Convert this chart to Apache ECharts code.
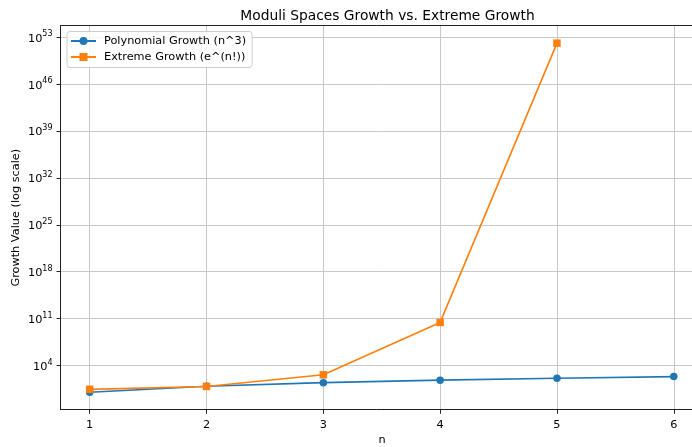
<!DOCTYPE html>
<html>
<head>
<meta charset="utf-8">
<script src="https://cdn.jsdelivr.net/npm/echarts@6/dist/echarts.min.js"></script>
<style>
html,body{margin:0;padding:0;background:#fff;overflow:hidden;}
#chart{width:692px;height:447px;}
</style>
</head>
<body>
<div id="chart"></div>
<script>
// ---- data ----
const titleText = 'Moduli Spaces Growth vs. Extreme Growth';
const xName = 'n';
const yName = 'Growth Value (log scale)';
const seriesNames = ['Polynomial Growth (n^3)', 'Extreme Growth (e^(n!))'];
const polyN = [1, 2, 3, 4, 5, 6];
const polyValues = [1, 8, 27, 64, 125, 216];
const extremeN = [1, 2, 3, 4, 5];
const extremeValues = [2.718, 7.389, 403.4, 2.649e10, 1.304e52];
const xTicks = [1, 2, 3, 4, 5, 6];
const yTickExponents = [4, 11, 18, 25, 32, 39, 46, 53];

const FONT = 'DejaVu Sans';
const FS = 11.3;
const toLog = (ns, vs) => ns.map((n, i) => [n, Math.log10(vs[i])]);

const chart = echarts.init(document.getElementById('chart'), null, {renderer: 'canvas'});
chart.setOption({
  animation: false,
  backgroundColor: '#ffffff',
  textStyle: {fontFamily: FONT},
  title: {
    text: titleText,
    left: 382.5, top: 4, textAlign: 'center',
    textStyle: {fontFamily: FONT, fontSize: 13.8, fontWeight: 'normal', color: '#000'}
  },
  grid: {
    left: 60.5, top: 25.7, right: 0, height: 384,
    show: false, containLabel: false
  },
  graphic: [
    {type: 'text', x: 16.5, y: 217.7, rotation: Math.PI / 2,
     style: {text: yName, fontFamily: FONT, fontSize: FS, fill: '#000', align: 'center', verticalAlign: 'middle'}},
    {type: 'text', x: 382, y: 440,
     style: {text: xName, fontFamily: FONT, fontSize: FS, fill: '#000', align: 'center', verticalAlign: 'middle'}}
  ],
  legend: {
    orient: 'vertical',
    left: 67, top: 31.5,
    padding: [4, 6, 5, 3],
    itemGap: 5,
    itemWidth: 25, itemHeight: 10,
    backgroundColor: 'rgba(255,255,255,0.85)',
    borderColor: '#cccccc', borderWidth: 1, borderRadius: 3,
    textStyle: {fontFamily: FONT, fontSize: FS, color: '#000', padding: [0, 0, 0, 3]},
    data: seriesNames
  },
  xAxis: [{
    type: 'value',
    min: 0.75, max: 6.156,
    axisLine: {show: true, onZero: false, lineStyle: {color: '#222', width: 1}},
    axisTick: {show: true, length: 4, inside: false, customValues: xTicks, lineStyle: {color: '#222'}},
    axisLabel: {customValues: xTicks, margin: 10, fontFamily: FONT, fontSize: FS, color: '#000'},
    splitLine: {show: true, lineStyle: {color: '#c8c8c8', width: 1}}
  }, {
    type: 'value', position: 'top',
    min: 0.75, max: 6.156,
    axisLine: {show: true, onZero: false, lineStyle: {color: '#222', width: 1}},
    axisTick: {show: false}, axisLabel: {show: false}, splitLine: {show: false}
  }],
  yAxis: {
    type: 'value',
    min: -2.606, max: 54.72,
    axisLine: {show: true, onZero: false, lineStyle: {color: '#222', width: 1}},
    axisTick: {show: true, length: 4, inside: false, customValues: yTickExponents, lineStyle: {color: '#222'}},
    axisLabel: {
      customValues: yTickExponents,
      margin: 8,
      formatter: v => '{b|10}{s|' + Math.round(v) + '}',
      rich: {
        b: {fontFamily: FONT, fontSize: FS, color: '#000', lineHeight: 14, verticalAlign: 'bottom'},
        s: {fontFamily: FONT, fontSize: 8, color: '#000', lineHeight: 8, verticalAlign: 'top'}
      }
    },
    splitLine: {show: true, lineStyle: {color: '#c8c8c8', width: 1}}
  },
  series: [
    {
      name: seriesNames[0], type: 'line',
      data: toLog(polyN, polyValues),
      symbol: 'circle', symbolSize: 7.5,
      itemStyle: {color: '#1f77b4'},
      lineStyle: {color: '#1f77b4', width: 1.6},
      z: 2
    },
    {
      name: seriesNames[1], type: 'line',
      data: toLog(extremeN, extremeValues),
      symbol: 'rect', symbolSize: 7.5,
      itemStyle: {color: '#ff7f0e'},
      lineStyle: {color: '#ff7f0e', width: 1.6},
      z: 3
    }
  ]
});
</script>
</body>
</html>
